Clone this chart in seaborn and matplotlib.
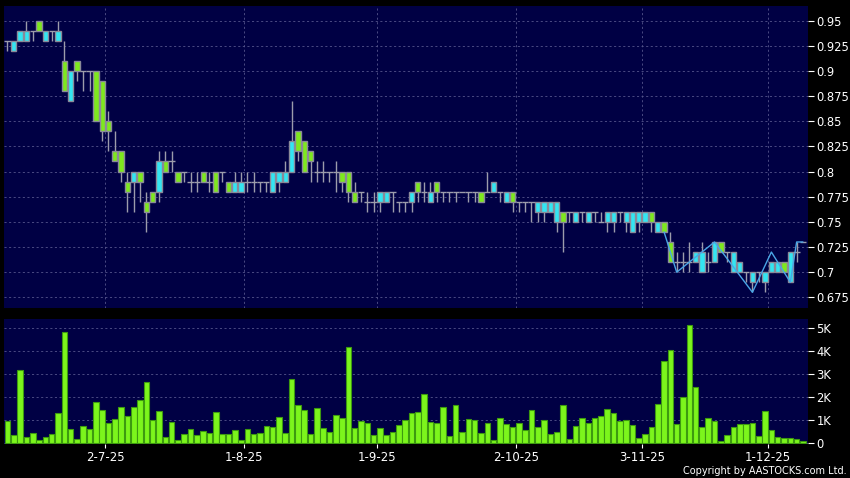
import numpy as np
import pandas as pd
import matplotlib
matplotlib.use("Agg")
import matplotlib.pyplot as plt
import seaborn as sns

# ---------------- data ----------------
holidays = ["2025-07-01", "2025-10-01", "2025-10-07", "2025-10-29"]
trade_dates = pd.bdate_range("2025-06-10", "2025-12-09")
trade_dates = trade_dates[~trade_dates.isin(pd.to_datetime(holidays))]

tick_dates = ["2025-07-02", "2025-08-01", "2025-09-01", "2025-10-02", "2025-11-03", "2025-12-01"]

opens = [0.93, 0.92, 0.93, 0.93, 0.94, 0.95, 0.93, 0.94, 0.93, 0.91,
         0.87, 0.91, 0.90, 0.90, 0.90, 0.89, 0.85, 0.82, 0.82, 0.79,
         0.79, 0.80, 0.77, 0.78, 0.78, 0.81, 0.81, 0.80, 0.80, 0.79,
         0.79, 0.80, 0.79, 0.80, 0.80, 0.79, 0.78, 0.78, 0.79, 0.79,
         0.79, 0.79, 0.78, 0.79, 0.79, 0.80, 0.84, 0.83, 0.82, 0.80,
         0.80, 0.80, 0.80, 0.80, 0.80, 0.78, 0.78, 0.77, 0.77, 0.77,
         0.77, 0.78, 0.77, 0.77, 0.77, 0.79, 0.78, 0.77, 0.79, 0.78,
         0.78, 0.78, 0.78, 0.78, 0.78, 0.78, 0.78, 0.78, 0.78, 0.77,
         0.78, 0.77, 0.77, 0.77, 0.76, 0.76, 0.76, 0.75, 0.76, 0.76,
         0.75, 0.76, 0.75, 0.76, 0.75, 0.75, 0.75, 0.76, 0.75, 0.74,
         0.75, 0.75, 0.76, 0.74, 0.75, 0.73, 0.71, 0.71, 0.71, 0.71,
         0.70, 0.71, 0.71, 0.73, 0.72, 0.70, 0.70, 0.70, 0.69, 0.70,
         0.69, 0.70, 0.70, 0.71, 0.69, 0.72, 0.73]
highs = [0.93, 0.93, 0.94, 0.95, 0.94, 0.95, 0.94, 0.94, 0.95, 0.93,
         0.90, 0.91, 0.90, 0.90, 0.90, 0.89, 0.86, 0.84, 0.82, 0.80,
         0.80, 0.80, 0.78, 0.78, 0.82, 0.82, 0.82, 0.80, 0.80, 0.80,
         0.80, 0.80, 0.80, 0.80, 0.80, 0.79, 0.80, 0.80, 0.80, 0.80,
         0.79, 0.79, 0.80, 0.80, 0.81, 0.87, 0.84, 0.83, 0.82, 0.81,
         0.81, 0.80, 0.81, 0.80, 0.80, 0.79, 0.78, 0.78, 0.78, 0.78,
         0.78, 0.78, 0.77, 0.77, 0.78, 0.79, 0.79, 0.79, 0.79, 0.78,
         0.78, 0.78, 0.78, 0.78, 0.78, 0.78, 0.80, 0.79, 0.78, 0.78,
         0.78, 0.77, 0.77, 0.77, 0.77, 0.77, 0.77, 0.77, 0.76, 0.76,
         0.76, 0.76, 0.76, 0.76, 0.76, 0.76, 0.76, 0.76, 0.76, 0.76,
         0.76, 0.76, 0.76, 0.75, 0.75, 0.74, 0.72, 0.72, 0.73, 0.72,
         0.73, 0.72, 0.73, 0.73, 0.72, 0.72, 0.71, 0.70, 0.70, 0.70,
         0.70, 0.71, 0.71, 0.71, 0.72, 0.73, 0.73]
lows = [0.92, 0.92, 0.93, 0.93, 0.93, 0.94, 0.93, 0.93, 0.93, 0.88,
        0.87, 0.89, 0.88, 0.88, 0.85, 0.83, 0.82, 0.81, 0.79, 0.76,
        0.76, 0.77, 0.74, 0.77, 0.77, 0.80, 0.80, 0.79, 0.79, 0.78,
        0.78, 0.79, 0.78, 0.78, 0.79, 0.78, 0.78, 0.78, 0.78, 0.78,
        0.78, 0.78, 0.78, 0.78, 0.79, 0.80, 0.81, 0.80, 0.79, 0.79,
        0.79, 0.79, 0.78, 0.78, 0.77, 0.77, 0.77, 0.76, 0.76, 0.76,
        0.77, 0.76, 0.76, 0.76, 0.76, 0.77, 0.77, 0.77, 0.77, 0.77,
        0.77, 0.77, 0.78, 0.77, 0.77, 0.77, 0.78, 0.78, 0.77, 0.77,
        0.76, 0.76, 0.76, 0.75, 0.75, 0.75, 0.76, 0.74, 0.72, 0.75,
        0.75, 0.75, 0.75, 0.75, 0.75, 0.74, 0.74, 0.75, 0.74, 0.74,
        0.74, 0.75, 0.74, 0.74, 0.74, 0.71, 0.70, 0.70, 0.70, 0.71,
        0.70, 0.70, 0.71, 0.72, 0.71, 0.70, 0.70, 0.69, 0.68, 0.69,
        0.68, 0.70, 0.70, 0.70, 0.69, 0.71, 0.73]
closes = [0.93, 0.93, 0.94, 0.94, 0.94, 0.94, 0.94, 0.94, 0.94, 0.88,
          0.90, 0.90, 0.90, 0.90, 0.85, 0.84, 0.84, 0.81, 0.80, 0.78,
          0.80, 0.79, 0.76, 0.77, 0.81, 0.80, 0.81, 0.79, 0.80, 0.79,
          0.79, 0.79, 0.79, 0.78, 0.80, 0.78, 0.79, 0.79, 0.79, 0.79,
          0.79, 0.79, 0.80, 0.80, 0.80, 0.83, 0.82, 0.80, 0.81, 0.80,
          0.80, 0.80, 0.80, 0.79, 0.78, 0.77, 0.78, 0.77, 0.77, 0.78,
          0.78, 0.78, 0.77, 0.77, 0.78, 0.78, 0.78, 0.78, 0.78, 0.78,
          0.78, 0.78, 0.78, 0.78, 0.78, 0.77, 0.78, 0.79, 0.78, 0.78,
          0.77, 0.77, 0.77, 0.77, 0.77, 0.77, 0.77, 0.77, 0.75, 0.76,
          0.76, 0.76, 0.76, 0.76, 0.75, 0.76, 0.76, 0.76, 0.76, 0.76,
          0.76, 0.76, 0.75, 0.75, 0.74, 0.71, 0.71, 0.71, 0.71, 0.72,
          0.72, 0.71, 0.73, 0.72, 0.72, 0.72, 0.71, 0.70, 0.70, 0.70,
          0.70, 0.71, 0.71, 0.70, 0.72, 0.72, 0.73]
volumes_k = [0.97, 0.36, 3.19, 0.26, 0.43, 0.14, 0.26, 0.39, 1.30, 4.83,
             0.62, 0.20, 0.77, 0.61, 1.80, 1.46, 0.90, 1.04, 1.57, 1.19,
             1.57, 1.88, 2.65, 1.01, 1.42, 0.29, 0.91, 0.14, 0.39, 0.62,
             0.36, 0.55, 0.43, 1.35, 0.41, 0.41, 0.59, 0.14, 0.62, 0.42,
             0.45, 0.74, 0.70, 1.13, 0.45, 2.81, 1.67, 1.43, 0.41, 1.51,
             0.67, 0.49, 1.23, 1.09, 4.19, 0.65, 0.96, 0.90, 0.36, 0.65,
             0.38, 0.49, 0.78, 0.99, 1.30, 1.35, 2.14, 0.93, 0.88, 1.58,
             0.33, 1.64, 0.51, 1.06, 1.01, 0.45, 0.90, 0.14, 1.09, 0.83,
             0.72, 0.90, 0.57, 1.46, 0.71, 1.00, 0.41, 0.48, 1.68, 0.19,
             0.75, 1.10, 0.86, 1.10, 1.19, 1.49, 1.32, 0.96, 1.00, 0.78,
             0.25, 0.41, 0.70, 1.71, 3.55, 4.06, 0.84, 2.00, 5.14, 2.46,
             0.72, 1.09, 0.96, 0.10, 0.35, 0.72, 0.83, 0.83, 0.86, 0.32,
             1.39, 0.58, 0.26, 0.23, 0.22, 0.19, 0.10]

# zig-zag line drawn over the latest candles (bar index, price)
zig_bar = [104, 106, 112, 118, 121, 124, 125, 126]
zig_val = [0.74, 0.70, 0.73, 0.68, 0.72, 0.69, 0.73, 0.73]

price_ticks = [0.675, 0.7, 0.725, 0.75, 0.775, 0.8, 0.825, 0.85, 0.875, 0.9, 0.925, 0.95]
price_labels = ["0.675", "0.7", "0.725", "0.75", "0.775", "0.8", "0.825", "0.85", "0.875", "0.9", "0.925", "0.95"]
vol_ticks = [0, 1, 2, 3, 4, 5]
vol_labels = ["0", "1K", "2K", "3K", "4K", "5K"]

# ---------------- style ----------------
BG = "#000000"
PANEL = "#000044"
GRID = "#56568c"
UP = "#33e5f2"
DOWN = "#7ee81e"
VOLC = "#7cf51c"
EDGE = "#8a8a99"
WICK = "#9c9cab"

sns.set_theme(style="dark")
plt.rcParams["font.family"] = ["DejaVu Sans"]

n = len(opens)
idx = np.arange(n)
df = pd.DataFrame({"date": trade_dates[:n], "bar": idx, "open": opens, "high": highs,
                   "low": lows, "close": closes, "vol": volumes_k})
tick_pos = [int(np.where(df["date"] == pd.Timestamp(d))[0][0]) + 0.5 for d in tick_dates]
tick_lab = [f"{pd.Timestamp(d).day}-{pd.Timestamp(d).month}-{pd.Timestamp(d):%y}" for d in tick_dates]

fig = plt.figure(figsize=(8.5, 4.78), dpi=100, facecolor=BG)
axp = fig.add_axes([4 / 850, 1 - 308 / 478, 804 / 850, 302 / 478])
axv = fig.add_axes([4 / 850, 1 - 444 / 478, 804 / 850, 125 / 478])

for ax in (axp, axv):
    ax.set_facecolor(PANEL)
    for s in ax.spines.values():
        s.set_visible(False)
    ax.yaxis.tick_right()
    ax.tick_params(axis="y", colors="white", labelcolor="white", length=4, width=0.8,
                   labelsize=8.3, pad=2, direction="out", right=True, left=False)
    ax.grid(True, axis="both", color=GRID, linestyle=(0, (2.5, 3)), linewidth=0.6)
    ax.set_axisbelow(True)

# ---- candles ----
is_doji = df["open"] == df["close"]
axp.vlines(df["bar"], df["low"], df["high"], color=WICK, linewidth=1.0, zorder=2)
dj = df[is_doji]
axp.hlines(dj["close"], dj["bar"] - 0.5, dj["bar"] + 0.5, color=WICK, linewidth=1.0, zorder=2)
body = df[~is_doji]
bottoms = np.minimum(body["open"], body["close"])
heights = np.abs(body["close"] - body["open"])
colors = np.where(body["close"] > body["open"], UP, DOWN)
axp.bar(body["bar"], heights, bottom=bottoms, width=0.84, color=colors,
        edgecolor=EDGE, linewidth=1.0, zorder=3)

sns.lineplot(x=zig_bar, y=zig_val, ax=axp, color="#4aa6e6", linewidth=1.0, zorder=4)

axp.set_xlim(-0.55, n - 0.2)
axp.set_ylim(0.6644, 0.9645)
axp.set_yticks(price_ticks)
axp.set_yticklabels(price_labels)
axp.set_xticks(tick_pos)
axp.tick_params(axis="x", bottom=False, labelbottom=False)
axp.set_xlabel("")
axp.set_ylabel("")

# ---- volume ----
sns.barplot(data=df, x="bar", y="vol", ax=axv, color=VOLC, saturation=1,
            width=0.88, edgecolor="#3d9a10", linewidth=0.8, zorder=3)
axv.set_xlim(-0.55, n - 0.2)
axv.set_ylim(-0.03, 5.39)
axv.set_yticks(vol_ticks)
axv.set_yticklabels(vol_labels)
axv.set_xticks(tick_pos)
axv.set_xticklabels(tick_lab)
axv.tick_params(axis="x", colors="white", labelcolor="white", length=3, width=0.8,
                labelsize=8.5, pad=2, bottom=True, direction="out")
axv.set_xlabel("")
axv.set_ylabel("")

fig.text(847 / 850, 1 - 471 / 478, "Copyright by AASTOCKS.com Ltd.", color="white",
         fontsize=7.0, ha="right", va="center")

fig.savefig("out.png", dpi=100, facecolor=BG)
